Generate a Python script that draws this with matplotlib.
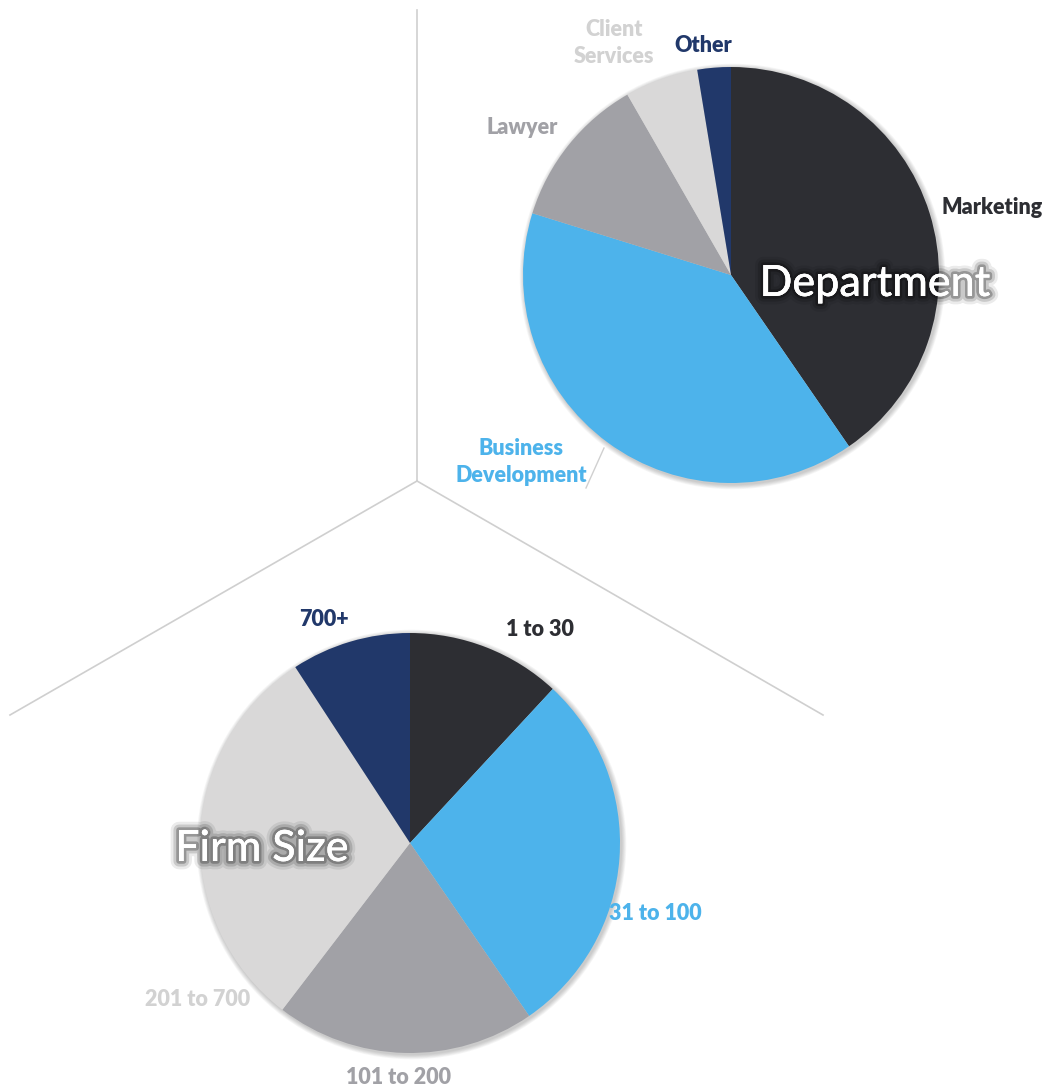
import matplotlib.pyplot as plt
import matplotlib.patheffects as pe
from matplotlib.patches import Circle

plt.rcParams['font.family'] = ['Lato', 'DejaVu Sans']

# Department breakdown (percent)
dept_labels = ['Marketing', 'Business\nDevelopment', 'Lawyer', 'Client\nServices', 'Other']
dept_values = [40.4, 39.4, 11.9, 5.7, 2.6]
dept_colors = ['#2d2e33', '#4db3eb', '#a1a1a6', '#d9d8d8', '#21386a']
dept_text_colors = ['#2d2e33', '#4db3eb', '#a1a1a6', '#d2d2d2', '#21386a']

# Firm size breakdown (percent)
size_labels = ['1 to 30', '31 to 100', '101 to 200', '201 to 700', '700+']
size_values = [11.9, 28.5, 20.0, 30.4, 9.2]
size_colors = ['#2d2e33', '#4db3eb', '#a1a1a6', '#d9d8d8', '#21386a']
size_text_colors = ['#2d2e33', '#4db3eb', '#a1a1a6', '#d2d2d2', '#21386a']

W, H = 1046, 1087
fig = plt.figure(figsize=(W / 100, H / 100), dpi=100)
ax = fig.add_axes([0, 0, 1, 1])
ax.set_xlim(0, W)
ax.set_ylim(0, H)
ax.set_aspect('equal')
ax.axis('off')


def Y(y):
    return H - y


# divider lines behind the pies
line_kw = dict(color='#cfcfcf', lw=1.2, zorder=0)
ax.plot([417, 417], [Y(10), Y(481)], **line_kw)
ax.plot([417, 10], [Y(481), Y(715)], **line_kw)
ax.plot([417, 823], [Y(481), Y(715)], **line_kw)
# leader for Business Development
ax.plot([586, 604], [Y(488), Y(448)], color='#d0d0d0', lw=1, zorder=0)


def soft_shadow(cx, cy, r):
    for k in range(1, 7):
        ax.add_patch(Circle((cx + 1.5, cy - 1.5), r + k * 0.8, color='black',
                            alpha=0.035, lw=0, zorder=1))


def draw_pie(values, colors, cx, cy, r):
    soft_shadow(cx, cy, r)
    wedges, _ = ax.pie(values, colors=colors, startangle=90, counterclock=False,
                       center=(cx, cy), radius=r, frame=True,
                       wedgeprops=dict(linewidth=0))
    for w in wedges:
        w.set_zorder(2)
    ax.set_xlim(0, W)
    ax.set_ylim(0, H)
    ax.axis('off')


draw_pie(dept_values, dept_colors, 731, Y(275), 208)
draw_pie(size_values, size_colors, 410, Y(843), 210)

lbl_kw = dict(ha='center', va='center', fontsize=15.5, fontweight='heavy',
              linespacing=1.3, zorder=5)

dept_pos = [(992, 207), (521, 462), (522, 128), (614, 43), (703, 45)]
for txt, col, (x, y) in zip(dept_labels, dept_text_colors, dept_pos):
    ax.text(x, Y(y), txt, color=col, **lbl_kw)

size_pos = [(540, 629), (655, 913), (399, 1077), (198, 999), (324, 620)]
for txt, col, (x, y) in zip(size_labels, size_text_colors, size_pos):
    ax.text(x, Y(y), txt, color=col, **lbl_kw)

# titles with a soft dark glow
glow = [pe.withStroke(linewidth=lw, foreground='black', alpha=a)
        for lw, a in [(12, 0.08), (8, 0.14), (4, 0.25)]] + [pe.Normal()]
ax.text(875, Y(284), 'Department', color='white', fontsize=31,
        fontweight='medium', ha='center', va='center', zorder=6,
        path_effects=glow)
ax.text(262, Y(849), 'Firm Size', color='white', fontsize=31,
        fontweight='medium', ha='center', va='center', zorder=6,
        path_effects=glow)

fig.savefig('out.png', dpi=100)
